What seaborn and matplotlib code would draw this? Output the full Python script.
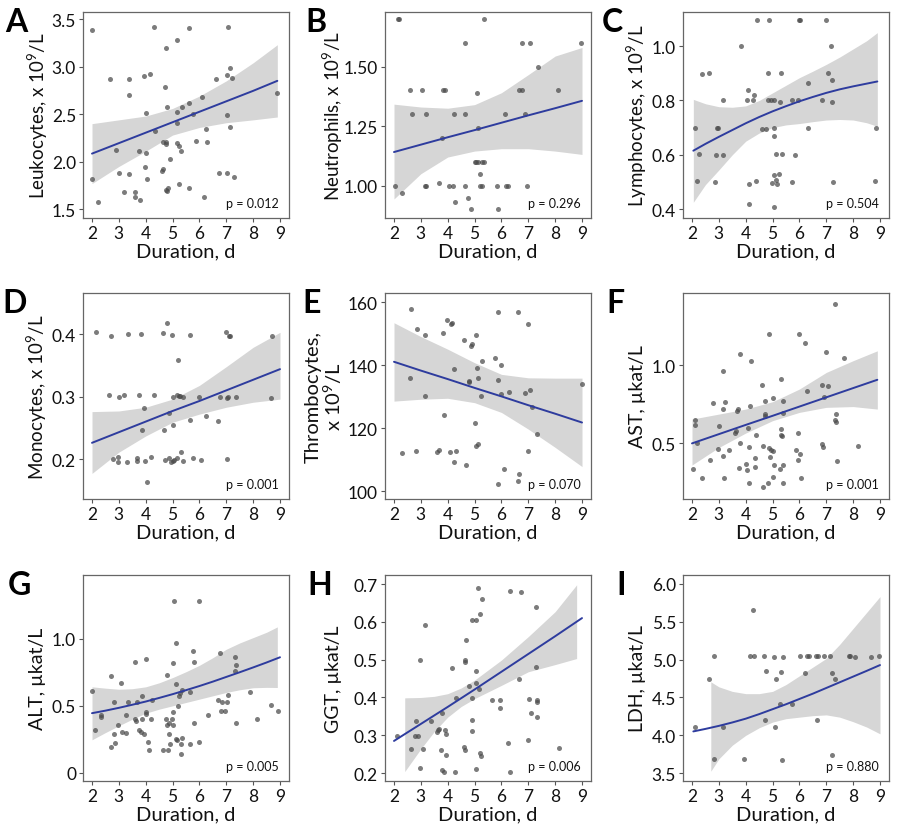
import matplotlib
matplotlib.use("Agg")
import matplotlib.pyplot as plt
import seaborn as sns
import pandas as pd

# ---------------- data ----------------
letters = ["A", "B", "C", "D", "E", "F", "G", "H", "I"]
ylabels = [r"Leukocytes, x 10$^9$/L", r"Neutrophils, x 10$^9$/L", r"Lymphocytes, x 10$^9$/L",
           r"Monocytes, x 10$^9$/L", "Thrombocytes,\n" + r"x 10$^9$/L", "AST, µkat/L",
           "ALT, µkat/L", "GGT, µkat/L", "LDH, µkat/L"]
pvalues = ["p = 0.012", "p = 0.296", "p = 0.504", "p = 0.001", "p = 0.070", "p = 0.001",
           "p = 0.005", "p = 0.006", "p = 0.880"]
xticks = [2, 3, 4, 5, 6, 7, 8, 9]
yticks = [[1.5, 2.0, 2.5, 3.0, 3.5], [1.00, 1.25, 1.50], [0.4, 0.6, 0.8, 1.0], [0.2, 0.3, 0.4],
          [100, 120, 140, 160], [0.5, 1.0], [0, 0.5, 1.0], [0.2, 0.3, 0.4, 0.5, 0.6, 0.7],
          [3.5, 4.0, 4.5, 5.0, 5.5, 6.0]]
yticklabels = [["1.5", "2.0", "2.5", "3.0", "3.5"], ["1.00", "1.25", "1.50"], ["0.4", "0.6", "0.8", "1.0"],
               ["0.2", "0.3", "0.4"], ["100", "120", "140", "160"], ["0.5", "1.0"], ["0", "0.5", "1.0"],
               ["0.2", "0.3", "0.4", "0.5", "0.6", "0.7"], ["3.5", "4.0", "4.5", "5.0", "5.5", "6.0"]]
ylims = [(1.408, 3.574), (0.864, 1.729), (0.367, 1.126), (0.136, 0.466), (97.5, 162.95),
         (0.145, 1.46), (-0.062, 1.478), (0.179, 0.724), (3.398, 6.115)]

# A Leukocytes
a_x = [2.0, 2.0, 2.24, 2.67, 2.89, 2.99, 3.18, 3.36, 3.36, 3.39, 3.6, 3.6, 3.74, 3.8, 3.95, 4.0, 4.0, 3.96,
       4.05, 4.17, 4.31, 4.36, 4.64, 4.62, 4.64, 4.73, 4.75, 4.77, 4.77, 4.74, 4.78, 4.80, 4.82, 4.89, 5.16,
       5.15, 5.15, 5.18, 5.25, 5.25, 5.30, 5.36, 5.61, 5.61, 5.61, 5.77, 5.86, 6.08, 6.17, 6.24, 6.29, 6.63,
       6.72, 7.05, 7.02, 7.04, 7.04, 7.12, 7.12, 7.21, 7.27, 8.90]
a_y = [3.38, 1.82, 1.58, 2.87, 2.12, 1.88, 1.68, 2.87, 2.70, 1.87, 1.68, 1.63, 2.11, 1.60, 2.90, 2.51, 2.09,
       1.94, 1.82, 2.92, 3.42, 2.32, 2.21, 1.90, 1.92, 2.79, 3.20, 2.21, 2.19, 1.70, 1.69, 2.58, 1.72, 2.03,
       3.28, 2.52, 2.41, 2.20, 2.17, 1.77, 2.11, 2.58, 3.41, 2.62, 1.72, 2.50, 2.22, 2.68, 1.63, 2.34, 2.21,
       2.87, 1.88, 3.42, 2.91, 2.49, 1.88, 2.99, 2.37, 2.88, 1.84, 2.72]
a_fit_x = [2.0, 3.0, 4.0, 5.0, 6.0, 7.0, 8.0, 8.9]
a_fit_y = [2.085, 2.195, 2.305, 2.415, 2.525, 2.635, 2.745, 2.85]
a_lo = [1.77, 1.95, 2.11, 2.28, 2.36, 2.41, 2.44, 2.47]
a_hi = [2.40, 2.44, 2.48, 2.56, 2.69, 2.85, 3.04, 3.23]

# B Neutrophils
b_x = [2.15, 2.2, 2.02, 2.29, 2.61, 2.66, 3.03, 3.15, 3.19, 3.21, 3.69, 3.81, 3.90, 3.80, 4.03, 4.21, 4.24,
       4.26, 4.64, 4.65, 4.66, 4.75, 4.85, 5.0, 5.07, 5.12, 5.09, 5.11, 5.20, 5.22, 5.27, 5.28, 5.35, 5.35,
       5.85, 5.89, 6.15, 6.18, 6.23, 6.78, 6.67, 6.77, 6.88, 6.96, 7.07, 7.37, 8.10, 8.96]
b_y = [1.70, 1.70, 1.00, 0.97, 1.40, 1.30, 1.40, 1.00, 1.00, 1.30, 1.01, 1.40, 1.40, 1.20, 1.00, 1.00, 1.30,
       0.93, 1.00, 1.60, 1.30, 0.95, 0.90, 1.10, 1.10, 1.10, 1.39, 1.24, 1.05, 1.00, 1.00, 1.10, 1.10, 1.70,
       1.00, 0.90, 1.30, 1.00, 1.00, 1.60, 1.40, 1.40, 1.30, 1.00, 1.60, 1.50, 1.40, 1.60]
b_fit_x = [2.0, 3.0, 4.0, 5.0, 6.0, 7.0, 8.0, 9.0]
b_fit_y = [1.141, 1.172, 1.203, 1.233, 1.264, 1.295, 1.325, 1.356]
b_lo = [0.944, 1.05, 1.12, 1.145, 1.155, 1.155, 1.145, 1.131]
b_hi = [1.342, 1.33, 1.325, 1.34, 1.39, 1.466, 1.544, 1.58]

# C Lymphocytes
c_x = [2.12, 2.19, 2.27, 2.36, 2.62, 2.84, 2.89, 2.94, 2.98, 3.15, 3.17, 3.84, 4.03, 4.10, 4.11, 4.11, 4.28,
       4.30, 4.37, 4.41, 4.62, 4.74, 4.84, 4.84, 4.87, 4.94, 4.97, 5.04, 5.04, 5.04, 5.05, 5.12, 5.13, 5.15,
       5.04, 5.24, 5.29, 5.31, 5.35, 5.72, 5.74, 5.84, 5.96, 6.0, 6.03, 6.32, 6.33, 6.84, 7.0, 7.05, 7.18,
       7.21, 7.20, 7.26, 8.84, 8.83]
c_y = [0.70, 0.504, 0.604, 0.896, 0.90, 0.498, 0.60, 0.70, 0.70, 0.60, 0.80, 1.0, 0.80, 0.837, 0.494, 0.42,
       0.80, 0.82, 0.502, 1.095, 0.696, 0.696, 0.902, 0.80, 1.095, 0.80, 0.496, 0.80, 0.70, 0.668, 0.406,
       0.604, 0.507, 0.491, 0.526, 0.528, 0.795, 0.90, 0.604, 0.499, 0.80, 0.598, 0.80, 1.095, 1.095, 0.70,
       0.863, 0.80, 1.095, 0.90, 1.0, 0.875, 0.795, 0.498, 0.70, 0.502]
c_fit_x = [2.05, 2.5, 3.0, 3.5, 4.0, 4.5, 5.0, 5.5, 6.0, 6.5, 7.0, 7.5, 8.0, 8.5, 8.9]
c_fit_y = [0.615, 0.640, 0.666, 0.691, 0.716, 0.739, 0.760, 0.779, 0.797, 0.813, 0.828, 0.841, 0.852,
           0.862, 0.870]
c_lo = [0.425, 0.490, 0.544, 0.600, 0.650, 0.680, 0.700, 0.710, 0.715, 0.722, 0.728, 0.730, 0.728, 0.718,
        0.705]
c_hi = [0.804, 0.788, 0.777, 0.775, 0.780, 0.800, 0.828, 0.856, 0.884, 0.908, 0.933, 0.960, 0.990, 1.020,
        1.050]

# D Monocytes
d_x = [2.14, 2.70, 3.33, 3.81, 4.64, 4.78, 4.99, 5.65, 6.98, 7.11, 7.15, 8.72,
       2.65, 3.02, 3.19, 3.75, 4.31, 5.02, 5.15, 5.24, 5.29, 5.38, 5.99, 6.78, 7.01, 7.05, 7.37, 8.65,
       5.19, 3.95, 4.87, 5.65, 6.23, 6.68, 3.85, 4.68, 5.03, 5.30,
       2.78, 2.96, 2.97, 3.30, 3.68, 3.68, 3.99, 4.21, 4.73, 4.88, 4.95, 5.02, 5.05, 5.17, 5.39, 5.75, 6.07,
       7.01, 4.04]
d_y = [0.404, 0.397, 0.400, 0.401, 0.402, 0.418, 0.398, 0.398, 0.404, 0.397, 0.397, 0.397,
       0.303, 0.300, 0.302, 0.302, 0.302, 0.300, 0.302, 0.301, 0.301, 0.300, 0.299, 0.300, 0.297, 0.300,
       0.300, 0.298,
       0.358, 0.281, 0.273, 0.262, 0.269, 0.261, 0.247, 0.246, 0.254, 0.212,
       0.200, 0.195, 0.204, 0.196, 0.201, 0.197, 0.197, 0.204, 0.199, 0.202, 0.196, 0.197, 0.198, 0.201,
       0.197, 0.202, 0.199, 0.200, 0.163]
d_fit_x = [2.0, 3.0, 4.0, 5.0, 6.0, 7.0, 8.0, 9.0]
d_fit_y = [0.226, 0.243, 0.260, 0.277, 0.293, 0.310, 0.327, 0.344]
d_lo = [0.177, 0.211, 0.237, 0.259, 0.272, 0.283, 0.291, 0.296]
d_hi = [0.276, 0.277, 0.283, 0.296, 0.318, 0.348, 0.379, 0.403]

# E Thrombocytes
e_x = [2.31, 2.61, 2.65, 2.87, 2.82, 3.15, 3.16, 3.59, 3.67, 3.81, 3.85, 3.96, 4.09, 4.12, 4.17, 4.22, 4.22,
       4.30, 4.61, 4.69, 4.78, 4.80, 4.86, 4.92, 5.01, 5.06, 5.09, 5.07, 5.14, 5.14, 5.25, 5.26, 5.76, 5.89,
       5.89, 5.89, 5.98, 5.99, 6.10, 6.30, 6.62, 6.61, 6.66, 7.0, 6.99, 7.05, 6.89, 7.12, 7.31, 8.99]
e_y = [112.1, 135.9, 157.9, 151.6, 112.7, 149.5, 130.1, 112.4, 113.0, 150.2, 124.2, 154.3, 112.3, 153.0,
       153.3, 109.4, 138.7, 112.8, 148.0, 108.4, 134.8, 135.1, 146.2, 146.7, 121.6, 149.6, 139.0, 114.2,
       115.0, 136.0, 130.3, 141.3, 142.3, 135.2, 156.8, 102.3, 140.2, 130.9, 107.0, 131.6, 156.8, 103.2,
       105.3, 153.0, 112.7, 132.2, 131.1, 126.7, 118.2, 133.9]
e_fit_x = [2.0, 3.0, 4.0, 5.0, 6.0, 7.0, 8.0, 9.0]
e_fit_y = [141.1, 138.3, 135.6, 132.8, 130.1, 127.3, 124.6, 121.8]
e_lo = [128.6, 129.2, 129.5, 128.1, 125.0, 119.7, 113.9, 107.8]
e_hi = [153.5, 149.1, 145.1, 140.8, 137.1, 136.0, 135.9, 135.9]

# F AST
f_x = [2.04, 2.11, 2.11, 2.20, 2.38, 2.67, 2.79, 2.99, 2.98, 3.14, 3.14, 3.15, 3.19, 3.24, 3.36, 3.61, 3.64,
       3.69, 3.73, 3.75, 3.79, 3.79, 4.0, 4.04, 4.10, 4.11, 4.13, 4.16, 4.2, 4.33, 4.35, 4.40, 4.62, 4.63,
       4.64, 4.71, 4.71, 4.73, 4.82, 4.86, 4.88, 4.92, 4.95, 5.02, 5.03, 5.03, 5.07, 5.26, 5.33, 5.33, 5.33,
       5.34, 5.38, 5.38, 5.38, 5.39, 5.88, 5.94, 5.96, 5.98, 6.02, 6.07, 6.19, 6.27, 6.83, 6.83, 6.88, 6.93,
       7.00, 7.06, 7.31, 7.31, 7.35, 7.37, 7.39, 7.66, 8.18]
f_y = [0.334, 0.649, 0.619, 0.50, 0.281, 0.396, 0.760, 0.611, 0.464, 0.962, 0.719, 0.419, 0.279, 0.762,
       0.460, 0.564, 0.581, 0.704, 0.719, 0.340, 1.070, 0.50, 0.370, 0.330, 0.600, 0.479, 0.247, 0.740,
       1.028, 0.404, 0.351, 0.551, 0.874, 0.481, 0.221, 0.768, 0.689, 0.674, 0.247, 1.200, 0.472, 0.413,
       0.460, 0.285, 0.449, 0.791, 0.364, 0.338, 0.911, 0.591, 0.555, 0.545, 0.768, 0.696, 0.362, 0.247,
       0.457, 0.564, 0.396, 1.200, 0.432, 0.279, 1.140, 0.836, 0.870, 0.496, 0.479, 0.794, 1.081, 0.868,
       1.387, 0.651, 0.638, 0.689, 0.387, 1.047, 0.481]
f_fit_x = [2.0, 3.0, 4.0, 5.0, 6.0, 7.0, 8.0, 8.9]
f_fit_y = [0.500, 0.559, 0.618, 0.676, 0.735, 0.794, 0.853, 0.906]
f_lo = [0.362, 0.474, 0.566, 0.645, 0.698, 0.730, 0.735, 0.719]
f_hi = [0.655, 0.687, 0.719, 0.766, 0.847, 0.953, 1.028, 1.091]

# G ALT
g_x = [2.01, 2.12, 2.35, 2.35, 2.72, 2.72, 2.82, 2.83, 2.86, 2.98, 3.07, 3.10, 3.25, 3.27, 3.35, 3.60, 3.61,
       3.65, 3.66, 3.76, 3.82, 3.85, 3.87, 3.95, 4.0, 4.0, 4.01, 4.10, 4.11, 4.21, 4.23, 4.66, 4.74, 4.78,
       4.80, 4.84, 4.87, 4.88, 4.90, 4.99, 5.02, 5.02, 5.03, 5.07, 5.13, 5.13, 5.14, 5.16, 5.20, 5.25, 5.28,
       5.30, 5.31, 5.34, 5.35, 5.64, 5.65, 5.77, 5.80, 5.80, 5.97, 6.0, 6.32, 6.68, 6.78, 6.79, 6.84, 6.94,
       7.04, 7.06, 7.31, 7.34, 7.36, 7.36, 7.90, 8.16, 8.65, 8.94]
g_y = [0.614, 0.323, 0.435, 0.413, 0.721, 0.189, 0.532, 0.291, 0.219, 0.353, 0.674, 0.308, 0.430, 0.294,
       0.532, 0.831, 0.405, 0.386, 0.532, 0.316, 0.301, 0.577, 0.403, 0.289, 0.853, 0.455, 0.438, 0.231,
       0.169, 0.400, 0.540, 0.169, 0.400, 0.358, 0.729, 0.172, 0.291, 0.373, 0.211, 0.405, 0.453, 0.356,
       0.821, 1.281, 0.968, 0.664, 0.251, 0.246, 0.502, 0.570, 0.595, 0.211, 0.142, 0.617, 0.259, 0.607,
       0.211, 0.913, 0.826, 0.368, 0.226, 1.286, 0.433, 0.542, 0.893, 0.458, 0.532, 0.458, 0.532, 0.582,
       0.761, 0.866, 0.803, 0.373, 0.602, 0.400, 0.505, 0.463]
g_fit_x = [2.0, 2.5, 3.0, 3.5, 4.0, 4.5, 5.0, 5.5, 6.0, 6.5, 7.0, 7.5, 8.0, 8.5, 9.0]
g_fit_y = [0.445, 0.464, 0.485, 0.508, 0.532, 0.559, 0.587, 0.617, 0.648, 0.681, 0.716, 0.751, 0.787,
           0.824, 0.863]
g_band_x = [2.0, 2.5, 3.0, 3.5, 4.0, 4.5, 5.0, 5.5, 6.0, 6.5, 7.0, 7.5, 8.0, 8.5, 8.9]
g_lo = [0.246, 0.300, 0.351, 0.400, 0.445, 0.475, 0.500, 0.525, 0.550, 0.575, 0.600, 0.620, 0.635, 0.638,
        0.637]
g_hi = [0.642, 0.632, 0.624, 0.628, 0.642, 0.672, 0.711, 0.755, 0.803, 0.860, 0.923, 0.970, 1.010, 1.050,
        1.090]

# H GGT
h_x = [2.10, 2.64, 2.81, 2.80, 2.89, 2.95, 2.96, 3.09, 3.16, 3.37, 3.59, 3.64, 3.68, 3.75, 3.77, 3.79, 3.85,
       3.90, 3.92, 3.95, 4.17, 4.27, 4.29, 4.61, 4.63, 4.65, 4.65, 4.69, 4.81, 4.90, 4.91, 4.92, 4.92, 5.04,
       5.04, 5.06, 5.07, 5.11, 5.15, 5.21, 5.20, 5.23, 5.26, 5.64, 5.93, 5.93, 6.26, 6.31, 6.31, 6.65, 6.72,
       7.0, 7.04, 7.09, 7.28, 7.28, 7.31, 7.33, 7.31, 8.15]
h_y = [0.298, 0.264, 0.337, 0.299, 0.297, 0.213, 0.498, 0.263, 0.593, 0.337, 0.309, 0.313, 0.317, 0.260,
       0.360, 0.207, 0.202, 0.313, 0.249, 0.304, 0.479, 0.204, 0.398, 0.270, 0.261, 0.494, 0.500, 0.551,
       0.431, 0.312, 0.340, 0.399, 0.605, 0.605, 0.437, 0.211, 0.470, 0.689, 0.423, 0.620, 0.254, 0.244,
       0.660, 0.392, 0.394, 0.371, 0.279, 0.203, 0.681, 0.449, 0.678, 0.288, 0.395, 0.360, 0.639, 0.480,
       0.389, 0.392, 0.347, 0.267]
h_fit_x = [2.0, 3.0, 4.0, 5.0, 6.0, 7.0, 8.0, 9.0]
h_fit_y = [0.285, 0.330, 0.375, 0.421, 0.468, 0.515, 0.562, 0.610]
h_band_x = [2.4, 3.0, 3.5, 4.0, 4.5, 5.0, 6.0, 7.0, 8.0, 8.8]
h_lo = [0.204, 0.264, 0.310, 0.348, 0.376, 0.397, 0.432, 0.468, 0.487, 0.503]
h_hi = [0.399, 0.400, 0.403, 0.410, 0.425, 0.446, 0.499, 0.561, 0.627, 0.698]

# I LDH
i_x = [2.10, 2.63, 2.82, 2.82, 3.15, 3.94, 4.16, 4.26, 4.29, 4.67, 4.75, 4.73, 5.05, 5.08, 5.13, 5.26, 5.31,
       5.34, 5.39, 5.71, 6.01, 6.22, 6.29, 6.37, 6.63, 6.69, 6.64, 6.91, 7.14, 7.23, 7.23, 7.34, 7.85, 7.90,
       8.08, 8.66, 8.97]
i_y = [4.11, 4.746, 5.046, 3.686, 4.110, 3.69, 5.046, 5.647, 5.046, 5.046, 4.852, 4.198, 5.037, 4.105,
       4.741, 4.41, 4.83, 3.68, 5.037, 4.41, 5.046, 4.825, 5.046, 5.046, 5.046, 5.046, 4.198, 5.046, 5.046,
       4.825, 3.747, 4.746, 5.046, 5.046, 5.037, 5.037, 5.046]
i_fit_x = [2.05, 2.5, 3.0, 3.5, 4.0, 4.5, 5.0, 5.5, 6.0, 6.5, 7.0, 7.5, 8.0, 8.5, 9.0]
i_fit_y = [4.052, 4.085, 4.125, 4.170, 4.220, 4.280, 4.345, 4.410, 4.480, 4.550, 4.625, 4.700, 4.775,
           4.850, 4.927]
i_band_x = [2.7, 3.0, 3.5, 4.0, 4.5, 5.0, 5.5, 6.0, 6.5, 7.0, 7.5, 8.0, 8.5, 9.0]
i_lo = [3.527, 3.69, 3.87, 4.00, 4.10, 4.175, 4.22, 4.24, 4.26, 4.27, 4.24, 4.18, 4.11, 4.02]
i_hi = [4.706, 4.64, 4.58, 4.55, 4.55, 4.58, 4.67, 4.785, 4.90, 5.015, 5.20, 5.41, 5.62, 5.83]

pts_x = [a_x, b_x, c_x, d_x, e_x, f_x, g_x, h_x, i_x]
pts_y = [a_y, b_y, c_y, d_y, e_y, f_y, g_y, h_y, i_y]
fit_x = [a_fit_x, b_fit_x, c_fit_x, d_fit_x, e_fit_x, f_fit_x, g_fit_x, h_fit_x, i_fit_x]
fit_y = [a_fit_y, b_fit_y, c_fit_y, d_fit_y, e_fit_y, f_fit_y, g_fit_y, h_fit_y, i_fit_y]
band_x = [a_fit_x, b_fit_x, c_fit_x, d_fit_x, e_fit_x, f_fit_x, g_band_x, h_band_x, i_band_x]
band_lo = [a_lo, b_lo, c_lo, d_lo, e_lo, f_lo, g_lo, h_lo, i_lo]
band_hi = [a_hi, b_hi, c_hi, d_hi, e_hi, f_hi, g_hi, h_hi, i_hi]

# ---------------- layout ----------------
sns.set_theme(style="white")
plt.rcParams["font.family"] = ["Lato", "DejaVu Sans"]
plt.rcParams["mathtext.fontset"] = "custom"
plt.rcParams["mathtext.rm"] = "Lato"
plt.rcParams["mathtext.it"] = "Lato:italic"

W, H = 900, 837
fig = plt.figure(figsize=(9, 8.37), dpi=100)
fig.patch.set_facecolor("white")

col_left = [83, 385, 683]
row_top = [13, 294, 576]
ax_w, ax_h = 206, 206
letter_x = [5, 305, 602, 2, 302, 606, 8, 307, 616]
label_xc = [-0.218, -0.252, -0.223, -0.223, -0.296, -0.223, -0.223, -0.252, -0.223]
label_fs = [13.5, 13.5, 13.5, 13.5, 14.5, 14, 14, 14, 14]

for k in range(9):
    r, c = divmod(k, 3)
    left = col_left[c] / W
    bottom = 1 - (row_top[r] + ax_h) / H
    ax = fig.add_axes([left, bottom, ax_w / W, ax_h / H])

    ax.fill_between(band_x[k], band_lo[k], band_hi[k], color="#d6d6d6", lw=0, zorder=1)
    df = pd.DataFrame({"x": pts_x[k], "y": pts_y[k]})
    sns.scatterplot(data=df, x="x", y="y", ax=ax, color="#4a4a4a", alpha=0.72, s=13,
                    linewidth=0, zorder=2, legend=False)
    dfl = pd.DataFrame({"x": fit_x[k], "y": fit_y[k]})
    sns.lineplot(data=dfl, x="x", y="y", ax=ax, color="#2e3c9e", lw=1.4, zorder=3,
                 estimator=None, sort=False)

    ax.set_xlim(1.665, 9.335)
    ax.set_ylim(*ylims[k])
    ax.set_xticks(xticks)
    ax.set_xticklabels([str(t) for t in xticks])
    ax.set_yticks(yticks[k])
    ax.set_yticklabels(yticklabels[k])
    ax.tick_params(axis="both", which="both", direction="out", length=3, width=0.8,
                   color="#555555", labelsize=12.5, pad=2, labelcolor="#111111",
                   bottom=True, left=True)
    for sp in ax.spines.values():
        sp.set_color("#666666")
        sp.set_linewidth(0.9)
    ax.set_xlabel("Duration, d", fontsize=14.5, color="#111111", labelpad=1)
    ax.set_ylabel(ylabels[k], fontsize=label_fs[k], color="#111111", linespacing=1.0,
                  ha="center", va="center")
    ax.yaxis.set_label_coords(label_xc[k], 0.5)
    ax.text(0.95, 0.055, pvalues[k], transform=ax.transAxes, ha="right", va="baseline",
            fontsize=9, color="#111111")
    fig.text(letter_x[k] / W, 1 - (row_top[r] - 5) / H, letters[k], ha="left", va="top",
             fontsize=23, fontweight="bold", color="black")

fig.savefig("out.png", dpi=100, facecolor="white")
